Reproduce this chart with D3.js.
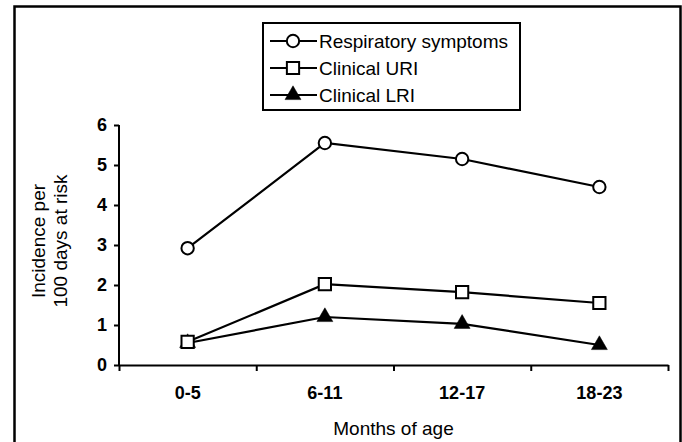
<!DOCTYPE html>
<html>
<head>
<meta charset="utf-8">
<script src="https://cdn.jsdelivr.net/npm/d3@7"></script>
<style>
  body { margin: 0; background: #fff; }
  svg { display: block; font-family: "Liberation Sans", Arial, sans-serif; }
</style>
</head>
<body>
<div id="app"></div>
<script>
const ageGroups = ['0-5', '6-11', '12-17', '18-23'];
const respiratory = [2.92, 5.55, 5.15, 4.45];
const clinicalURI = [0.58, 2.02, 1.82, 1.55];
const clinicalLRI = [0.55, 1.2, 1.03, 0.5];
const yTicks = [0, 1, 2, 3, 4, 5, 6];
const seriesNames = ['Respiratory symptoms', 'Clinical URI', 'Clinical LRI'];

const w = 682;
const h = 442;

const svg = d3.select('#app')
  .append('svg')
  .attr('width', w)
  .attr('height', h);

// outer frame (bottom edge falls outside the picture)
svg.append('rect')
  .attr('x', 14.5).attr('y', 6.5)
  .attr('width', 666).attr('height', 460)
  .attr('fill', 'none')
  .attr('stroke', '#000')
  .attr('stroke-width', 2.5);

const xScale = d3.scaleBand()
  .domain(ageGroups)
  .range([119, 668]);

const xEdge = d3.scaleLinear()
  .domain([0, ageGroups.length])
  .range([119, 668]);

const yScale = d3.scaleLinear()
  .domain([0, 6])
  .range([365, 125]);

// y axis
const yAxis = svg.append('g')
  .attr('transform', 'translate(119,0)')
  .call(d3.axisLeft(yScale).tickValues(yTicks).tickFormat(d3.format('d')).tickSize(5).tickPadding(7).tickSizeOuter(0));
yAxis.select('.domain').attr('stroke-width', 2).attr('d', 'M0,' + yScale(6) + 'V' + yScale(0));
yAxis.selectAll('.tick line').attr('stroke-width', 2);
yAxis.selectAll('text')
  .attr('font-size', 18)
  .attr('font-weight', 'bold')
  .attr('fill', '#000');

// x axis: tick marks at category edges
const xTickAxis = svg.append('g')
  .attr('transform', 'translate(0,365)')
  .call(d3.axisBottom(xEdge).tickValues(d3.range(ageGroups.length + 1)).tickFormat('').tickSize(6).tickSizeOuter(0));
xTickAxis.select('.domain').attr('stroke-width', 2);
xTickAxis.selectAll('.tick line').attr('stroke-width', 2);

// x axis labels at category centres
const xLabelAxis = svg.append('g')
  .attr('transform', 'translate(0,365)')
  .call(d3.axisBottom(xScale).tickSize(0).tickPadding(21));
xLabelAxis.select('.domain').remove();
xLabelAxis.selectAll('text')
  .attr('font-size', 18)
  .attr('font-weight', 'bold')
  .attr('fill', '#000');

// axis titles
svg.append('text')
  .attr('x', xEdge(2))
  .attr('y', 435)
  .attr('text-anchor', 'middle')
  .attr('font-size', 19)
  .text('Months of age');

const yTitle = svg.append('text')
  .attr('transform', 'translate(0,241) rotate(-90)')
  .attr('text-anchor', 'middle')
  .attr('font-size', 19);
yTitle.append('tspan').attr('x', 0).attr('y', 45).text('Incidence per');
yTitle.append('tspan').attr('x', 0).attr('y', 67).text('100 days at risk');

// lines
const line = d3.line()
  .x((d, i) => xScale(ageGroups[i]) + xScale.bandwidth() / 2)
  .y((d) => yScale(d));

const allSeries = [respiratory, clinicalURI, clinicalLRI];
const markerTypes = ['circle', 'square', 'triangle'];

const symbolFor = {
  circle: d3.symbol().type(d3.symbolCircle).size(120),
  square: d3.symbol().type(d3.symbolSquare).size(150),
  triangle: d3.symbol().type(d3.symbolTriangle).size(110)
};

allSeries.forEach((vals, s) => {
  svg.append('path')
    .datum(vals)
    .attr('d', line)
    .attr('fill', 'none')
    .attr('stroke', '#000')
    .attr('stroke-width', 2.2);
});

allSeries.slice().reverse().forEach((vals, r) => {
  const s = allSeries.length - 1 - r;
  const m = markerTypes[s];
  svg.selectAll('.mk' + s)
    .data(vals)
    .enter()
    .append('path')
    .attr('class', 'mk' + s)
    .attr('transform', (d, i) => 'translate(' + (xScale(ageGroups[i]) + xScale.bandwidth() / 2) + ',' + yScale(d) + ')')
    .attr('d', symbolFor[m])
    .attr('fill', m === 'triangle' ? '#000' : '#fff')
    .attr('stroke', '#000')
    .attr('stroke-width', m === 'triangle' ? 0.5 : 2);
});

// legend
const legend = svg.append('g');
legend.append('rect')
  .attr('x', 263).attr('y', 23)
  .attr('width', 257).attr('height', 87)
  .attr('fill', '#fff')
  .attr('stroke', '#000')
  .attr('stroke-width', 2);

seriesNames.forEach((name, i) => {
  const yy = 41 + i * 27;
  legend.append('line')
    .attr('x1', 270).attr('x2', 317)
    .attr('y1', yy).attr('y2', yy)
    .attr('stroke', '#000')
    .attr('stroke-width', 2);
  legend.append('path')
    .attr('transform', 'translate(293,' + yy + ')')
    .attr('d', symbolFor[markerTypes[i]])
    .attr('fill', markerTypes[i] === 'triangle' ? '#000' : '#fff')
    .attr('stroke', '#000')
    .attr('stroke-width', markerTypes[i] === 'triangle' ? 0.5 : 2);
  legend.append('text')
    .attr('x', 319)
    .attr('y', yy + 7)
    .attr('font-size', 19)
    .text(name);
});
</script>
</body>
</html>
